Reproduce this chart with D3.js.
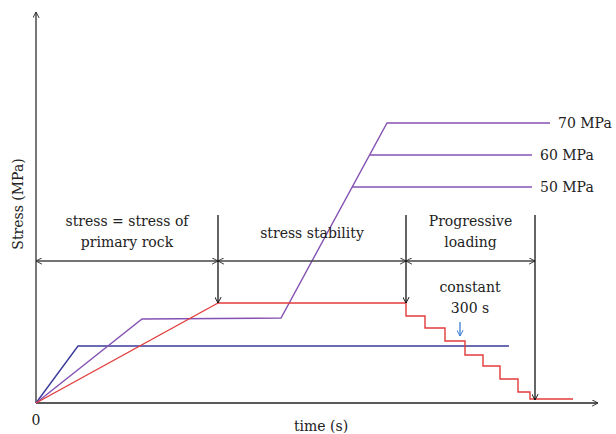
<!DOCTYPE html>
<html>
	<head>
		<meta charset="utf-8" />
		<script src="https://d3js.org/d3.v7.min.js"></script>
		<style>
			body {
				margin: 0;
				background: #fff;
			}
			.lbl {
				font-family: "DejaVu Serif", "Liberation Serif", serif;
				font-size: 14px;
				fill: #222;
			}
		</style>
	</head>
	<body>
		<div id="chart"></div>
		<script>

	// schematic loading paths (time units, stress units)
	var navyT = [0, 42, 473]
	var navyS = [0, 57, 57]

	var purpleT = [0, 106, 245, 351, 514]
	var purpleS = [0, 84, 85, 280, 280]

	// the two lower purple branches start on the steep ramp
	var branchLabels = ["70 MPa", "60 MPa", "50 MPa"]
	var branchStartT = [351, 334, 316]
	var branchEndT = [514, 496, 496]
	var branchS = [280, 248, 216]

	// red: ramp, plateau, then stepped unloading every 300 s
	var redRampT = [0, 182]
	var redRampS = [0, 100]
	var stepT = [370, 389, 409, 429, 447, 464, 482, 494]
	var stepS = [87, 75, 62, 48, 37, 24, 11, 4]
	var redEndT = 537

	// stage dividers
	var stageT = [0, 182, 370, 499]
	var stageArrowS = 142
	var dividerTopS = 188
	var dividerBottomS = [100, 100, 3]
	var stageText = [["stress = stress of", "primary rock"], ["stress stability"], ["Progressive", "loading"]]

	var width = 616, height = 434

	var x = d3.scaleLinear().domain([0, 562]).range([36, 598])
	var y = d3.scaleLinear().domain([0, 391]).range([403, 12])

	var svg = d3.select("#chart")
		.append("svg")
		.attr("width", width)
		.attr("height", height)

	// open chevron arrow heads
	var defs = svg.append("defs")
	function marker(id, color) {
		defs.append("marker")
			.attr("id", id)
			.attr("viewBox", "0 0 10 10")
			.attr("refX", 9.5)
			.attr("refY", 5)
			.attr("markerWidth", 7)
			.attr("markerHeight", 7)
			.attr("markerUnits", "userSpaceOnUse")
			.attr("orient", "auto-start-reverse")
			.append("path")
			.attr("d", "M1,0.5 L9.5,5 L1,9.5")
			.attr("fill", "none")
			.attr("stroke", color)
			.attr("stroke-width", 1.4)
	}
	marker("arrDark", "#333")
	marker("arrBlack", "#111")
	marker("arrBlue", "#3d7fcf")

	var line = d3.line()
		.x(function(d) { return x(d[0]) })
		.y(function(d) { return y(d[1]) })

	function zip(a, b) { return a.map(function(v, i) { return [v, b[i]] }) }

	// axes
	svg.append("line")
		.attr("x1", x(0)).attr("y1", y(0))
		.attr("x2", x(0)).attr("y2", y(391))
		.attr("stroke", "#555").attr("stroke-width", 1.6)
		.attr("marker-end", "url(#arrDark)")
	svg.append("line")
		.attr("x1", x(0)).attr("y1", y(0))
		.attr("x2", x(562)).attr("y2", y(0))
		.attr("stroke", "#222").attr("stroke-width", 1.6)
		.attr("marker-end", "url(#arrDark)")

	// navy path
	svg.append("path")
		.attr("d", line(zip(navyT, navyS)))
		.attr("fill", "none").attr("stroke", "#3b3b9b").attr("stroke-width", 1.4)

	// purple path + branches
	svg.append("path")
		.attr("d", line(zip(purpleT, purpleS)))
		.attr("fill", "none").attr("stroke", "#8552b3").attr("stroke-width", 1.4)
	svg.selectAll(".branch")
		.data(branchS.slice(1))
		.enter()
		.append("line")
		.attr("class", "branch")
		.attr("x1", function(d, i) { return x(branchStartT[i + 1]) })
		.attr("x2", function(d, i) { return x(branchEndT[i + 1]) })
		.attr("y1", function(d) { return y(d) })
		.attr("y2", function(d) { return y(d) })
		.attr("stroke", "#8552b3").attr("stroke-width", 1.4)
	svg.selectAll(".blabel")
		.data(branchLabels)
		.enter()
		.append("text")
		.attr("class", "lbl")
		.attr("x", function(d, i) { return x(branchEndT[i]) + 8 })
		.attr("y", function(d, i) { return y(branchS[i]) })
		.attr("dy", "0.35em")
		.text(function(d) { return d })

	// red path
	var redPts = zip(redRampT, redRampS)
	var stepLine = d3.line()
		.x(function(d) { return x(d[0]) })
		.y(function(d) { return y(d[1]) })
		.curve(d3.curveStepAfter)
	var stepPts = [[redRampT[1], redRampS[1]]].concat(zip(stepT, stepS)).concat([[redEndT, stepS[stepS.length - 1]]])
	svg.append("path")
		.attr("d", line(redPts))
		.attr("fill", "none").attr("stroke", "#e23b3b").attr("stroke-width", 1.4)
	svg.append("path")
		.attr("d", stepLine(stepPts))
		.attr("fill", "none").attr("stroke", "#e23b3b").attr("stroke-width", 1.4)

	// stage arrows
	for (let i = 0; i < stageT.length - 1; i++) {
		svg.append("line")
			.attr("x1", x(stageT[i])).attr("x2", x(stageT[i + 1]))
			.attr("y1", y(stageArrowS)).attr("y2", y(stageArrowS))
			.attr("stroke", "#444").attr("stroke-width", 1.6)
			.attr("marker-start", "url(#arrDark)")
			.attr("marker-end", "url(#arrDark)")
	}
	svg.selectAll(".divider")
		.data(stageT.slice(1))
		.enter()
		.append("line")
		.attr("class", "divider")
		.attr("x1", function(d) { return x(d) })
		.attr("x2", function(d) { return x(d) })
		.attr("y1", y(dividerTopS))
		.attr("y2", function(d, i) { return y(dividerBottomS[i]) })
		.attr("stroke", "#111").attr("stroke-width", 1.3)
		.attr("marker-end", "url(#arrBlack)")

	// stage captions
	stageText.forEach(function(lines, i) {
		var cx = (x(stageT[i]) + x(stageT[i + 1])) / 2
		var top = lines.length === 1 ? 238 : 226
		lines.forEach(function(t, j) {
			svg.append("text")
				.attr("class", "lbl")
				.attr("x", cx)
				.attr("y", top + j * 21)
				.attr("text-anchor", "middle")
				.text(t)
		})
	})

	// 300 s note
	svg.append("text").attr("class", "lbl")
		.attr("x", 470).attr("y", 292).attr("text-anchor", "middle").text("constant")
	svg.append("text").attr("class", "lbl")
		.attr("x", 470).attr("y", 313).attr("text-anchor", "middle").text("300 s")
	svg.append("line")
		.attr("x1", x(424)).attr("x2", x(424))
		.attr("y1", y(81)).attr("y2", y(67))
		.attr("stroke", "#3d7fcf").attr("stroke-width", 1.3)
		.attr("marker-end", "url(#arrBlue)")

	// axis labels
	svg.append("text").attr("class", "lbl")
		.attr("x", x(0)).attr("y", 425).attr("text-anchor", "middle").text("0")
	svg.append("text").attr("class", "lbl")
		.attr("x", 321).attr("y", 431).attr("text-anchor", "middle").text("time (s)")
	svg.append("text").attr("class", "lbl")
		.attr("transform", "translate(23,204) rotate(-90)")
		.attr("text-anchor", "middle").text("Stress (MPa)")

		</script>
	</body>
</html>
